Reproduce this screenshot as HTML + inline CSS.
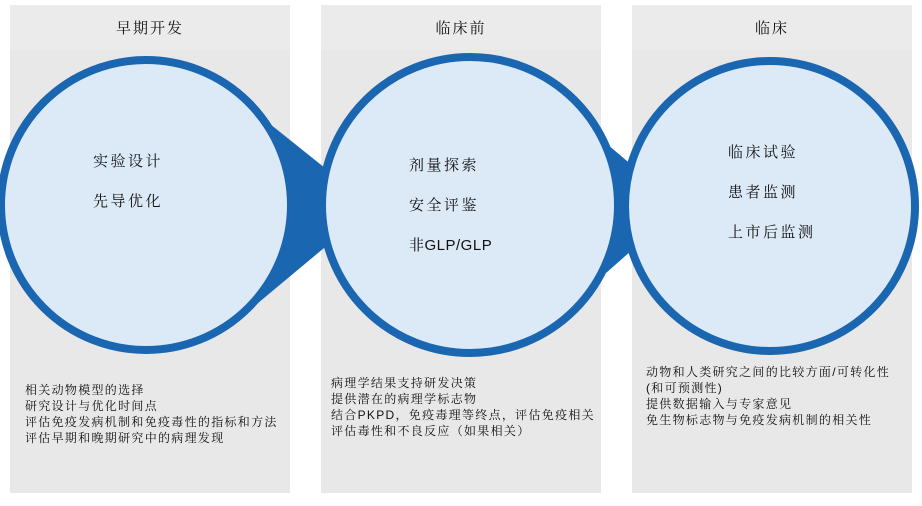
<!DOCTYPE html>
<html><head><meta charset="utf-8"><style>
body{margin:0;width:922px;height:506px;background:#fff;position:relative;overflow:hidden;font-family:"Liberation Sans","Noto Serif CJK SC","Noto Sans CJK SC",sans-serif;color:#111}
.col{position:absolute;top:5px;height:488px;background:#e8e8e8}
.hd{position:absolute;top:5px;height:45px;background:#ebebeb;text-align:center;line-height:48px;font-size:15px;letter-spacing:2px}
.t{position:absolute;font-size:12px;line-height:16px;white-space:nowrap;letter-spacing:1.3px}
.c{position:absolute;font-size:15px;line-height:40px;white-space:nowrap;letter-spacing:2.5px}
svg{position:absolute;left:0;top:0}
</style></head><body>
<div class="col" style="left:10px;width:280px"></div>
<div class="col" style="left:321px;width:280px"></div>
<div class="col" style="left:632px;width:280px"></div>
<div class="hd" style="left:10px;width:280px">早期开发</div>
<div class="hd" style="left:321px;width:280px">临床前</div>
<div class="hd" style="left:632px;width:280px">临床</div>
<svg width="922" height="506">
<polygon points="240,100 330,172 330,243 240,318" fill="#1a66b0"/>
<polygon points="555,100 640,172 640,243 555,318" fill="#1a66b0"/>
<circle cx="146" cy="205" r="145" fill="#dce9f7" stroke="#1a66b0" stroke-width="8"/>
<circle cx="470" cy="205" r="148" fill="#dce9f7" stroke="#1a66b0" stroke-width="8"/>
<circle cx="770" cy="206" r="145" fill="#dce9f7" stroke="#1a66b0" stroke-width="8"/>
</svg>
<div class="c" style="left:93px;top:142px">实验设计<br>先导优化</div>
<div class="c" style="left:409px;top:146px">剂量探索<br>安全评鉴<br><span style="letter-spacing:0.5px">非GLP/GLP</span></div>
<div class="c" style="left:728px;top:133px">临床试验<br>患者监测<br>上市后监测</div>
<div class="t" style="left:25px;top:382px">相关动物模型的选择<br>研究设计与优化时间点<br>评估免疫发病机制和免疫毒性的指标和方法<br>评估早期和晚期研究中的病理发现</div>
<div class="t" style="left:331px;top:375px">病理学结果支持研发决策<br>提供潜在的病理学标志物<br>结合PKPD，免疫毒理等终点，评估免疫相关<br>评估毒性和不良反应（如果相关）</div>
<div class="t" style="left:646px;top:364px">动物和人类研究之间的比较方面/可转化性<br>(和可预测性)<br>提供数据输入与专家意见<br>免生物标志物与免疫发病机制的相关性</div>
</body></html>
